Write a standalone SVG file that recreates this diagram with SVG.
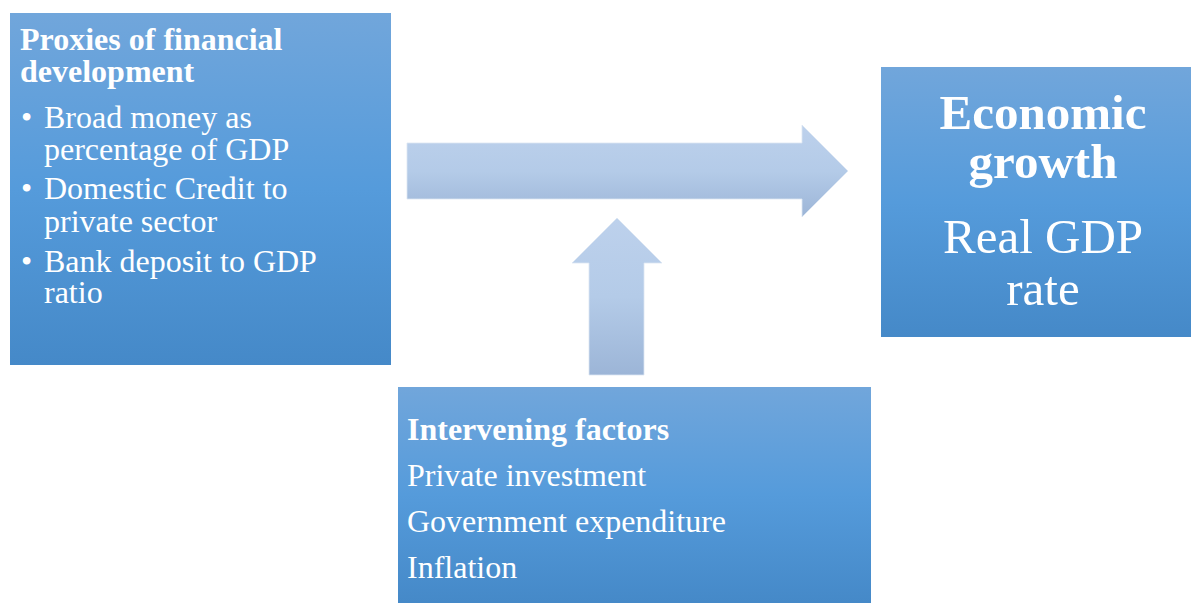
<svg xmlns="http://www.w3.org/2000/svg" width="1191" height="603" viewBox="0 0 1191 603">
<defs>
<linearGradient id="boxg" x1="0" y1="0" x2="0" y2="1">
<stop offset="0" stop-color="#71a6db"/>
<stop offset="0.5" stop-color="#559bdb"/>
<stop offset="1" stop-color="#4589c8"/>
</linearGradient>
<linearGradient id="arrg" x1="0" y1="0" x2="0" y2="1">
<stop offset="0" stop-color="#bdd1ec"/>
<stop offset="0.5" stop-color="#b4cbe8"/>
<stop offset="1" stop-color="#9cb5d7"/>
</linearGradient>
<style>
.box{fill:url(#boxg);}
.arr{fill:url(#arrg);stroke:#dce6f3;stroke-width:0.8;}
text{font-family:"Liberation Serif","Times New Roman",serif;fill:#ffffff;}
.b{font-weight:bold;}
.t32{font-size:32px;}
.t48{font-size:49px;}
</style>
</defs>
<g id="connectors">
<path class="arr" d="M407,143 H802 V125 L848,171 L802,217 V199 H407 Z"/>
<path class="arr" d="M589,375 V263 H572 L617,218 L662,263 H644 V375 Z"/>
</g>
<g id="node-proxies">
<rect class="box" x="10" y="13" width="381" height="352"/>
<text class="t32 b" x="20" y="50">Proxies of financial</text>
<text class="t32 b" x="20" y="82">development</text>
<text class="t32" x="21" y="128">•</text>
<text class="t32" x="44" y="128">Broad money as</text>
<text class="t32" x="44" y="160">percentage of GDP</text>
<text class="t32" x="21" y="199">•</text>
<text class="t32" x="44" y="199">Domestic Credit to</text>
<text class="t32" x="44" y="232">private sector</text>
<text class="t32" x="21" y="272">•</text>
<text class="t32" x="44" y="272">Bank deposit to GDP</text>
<text class="t32" x="44" y="303">ratio</text>
</g>
<g id="node-growth">
<rect class="box" x="881" y="67" width="310" height="270"/>
<text class="t48 b" x="1043" y="129" text-anchor="middle">Economic</text>
<text class="t48 b" x="1043" y="178" text-anchor="middle">growth</text>
<text class="t48" x="1043" y="253" text-anchor="middle">Real GDP</text>
<text class="t48" x="1043" y="305" text-anchor="middle">rate</text>
</g>
<g id="node-intervening">
<rect class="box" x="398" y="387" width="473" height="216"/>
<text class="t32 b" x="407" y="440">Intervening factors</text>
<text class="t32" x="407" y="486">Private investment</text>
<text class="t32" x="407" y="532">Government expenditure</text>
<text class="t32" x="407" y="578">Inflation</text>
</g>
</svg>
